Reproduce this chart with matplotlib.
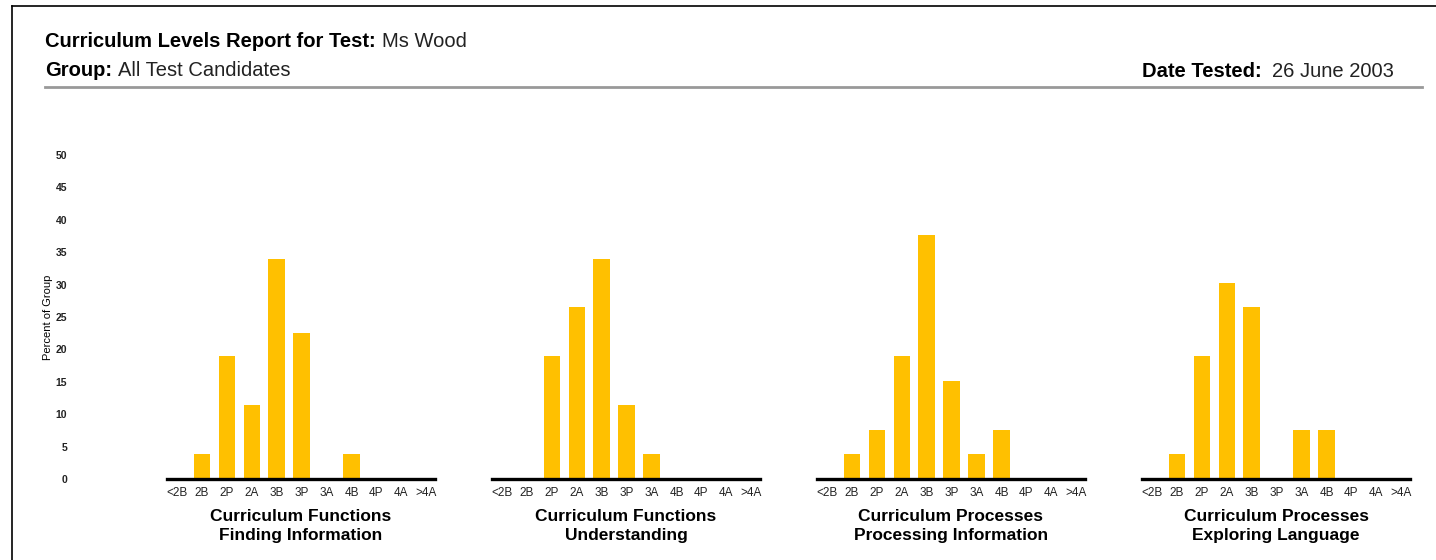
import matplotlib.pyplot as plt
from matplotlib.lines import Line2D

plt.rcParams['font.family'] = ['Liberation Sans', 'DejaVu Sans']

levels = ['<2B', '2B', '2P', '2A', '3B', '3P', '3A', '4B', '4P', '4A', '>4A']
titles = ['Curriculum Functions\nFinding Information',
          'Curriculum Functions\nUnderstanding',
          'Curriculum Processes\nProcessing Information',
          'Curriculum Processes\nExploring Language']
finding = [0, 3.8, 19.0, 11.4, 34.0, 22.6, 0, 3.8, 0, 0, 0]
understanding = [0, 0, 19.0, 26.5, 34.0, 11.4, 3.8, 0, 0, 0, 0]
processing = [0, 3.8, 7.6, 19.0, 37.6, 15.2, 3.8, 7.6, 0, 0, 0]
exploring = [0, 3.8, 19.0, 30.2, 26.5, 0, 7.6, 7.6, 0, 0, 0]
series = [finding, understanding, processing, exploring]
yticks = [0, 5, 10, 15, 20, 25, 30, 35, 40, 45, 50]

W, H = 1436, 560
fig = plt.figure(figsize=(W / 100, H / 100), dpi=100)
renderer = fig.canvas.get_renderer()

# page frame (top and left edges)
fig.add_artist(Line2D([12 / W, 1], [1 - 6 / H, 1 - 6 / H], color='black', lw=1.2))
fig.add_artist(Line2D([12 / W, 12 / W], [0, 1 - 6 / H], color='black', lw=1.2))


def header(x, y, bold, normal, size=14.5, gap=6):
    t = fig.text(x / W, 1 - y / H, bold, fontsize=size, fontweight='bold', va='baseline', ha='left')
    x2 = t.get_window_extent(renderer=renderer).x1 + gap
    fig.text(x2 / W, 1 - y / H, normal, fontsize=size, va='baseline', ha='left', color='#222222')


header(45, 47, 'Curriculum Levels Report for Test:', 'Ms Wood')
header(45, 76, 'Group:', 'All Test Candidates')
header(1142, 77, 'Date Tested:', '26 June 2003', gap=10)
fig.add_artist(Line2D([45 / W, 1422 / W], [1 - 87 / H, 1 - 87 / H], color='#999999', lw=2))

# chart axes: left pixel position of each baseline
lefts = [167, 492, 817, 1142]
width = 268
y0, y50 = 479, 155

for i, (vals, title) in enumerate(zip(series, titles)):
    ax = fig.add_axes([lefts[i] / W, 1 - y0 / H, width / W, (y0 - y50) / H])
    ax.bar(range(len(levels)), vals, width=0.66, color='#FFC000')
    ax.set_xlim(-0.4, 10.35)
    ax.set_ylim(0, 50)
    for s in ['top', 'right', 'left']:
        ax.spines[s].set_visible(False)
    ax.spines['bottom'].set_linewidth(2.4)
    ax.set_xticks(range(len(levels)))
    ax.set_xticklabels(levels, fontsize=8.5, color='#222222')
    ax.tick_params(axis='x', length=0, pad=6)
    ax.set_xlabel(title, fontsize=12.5, fontweight='bold', labelpad=7, linespacing=1.3)
    if i == 0:
        ax.set_yticks(yticks)
        ax.set_yticklabels([str(v) for v in yticks], fontsize=7.5, fontweight='bold', color='#222222')
        ax.tick_params(axis='y', length=0, pad=72)
        ax.set_ylabel('Percent of Group', fontsize=8)
        ax.yaxis.set_label_coords(-114 / width, 0.5)
    else:
        ax.set_yticks([])

plt.savefig('out.png', dpi=100)
